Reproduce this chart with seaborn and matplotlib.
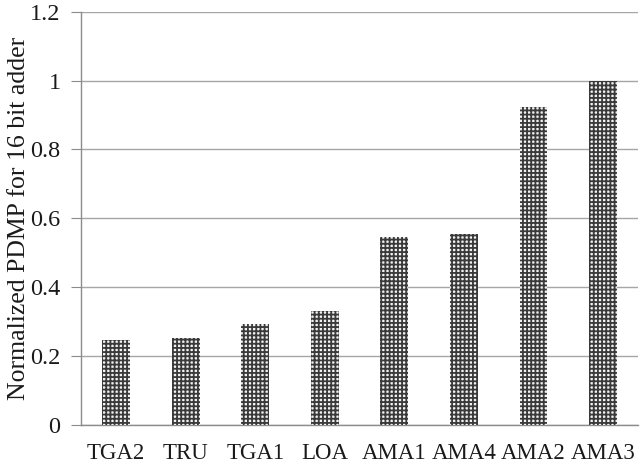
import matplotlib
matplotlib.use("Agg")
import matplotlib.pyplot as plt
import seaborn as sns
import numpy as np
import pandas as pd

adders = ["TGA2", "TRU", "TGA1", "LOA", "AMA1", "AMA4", "AMA2", "AMA3"]
pdmp = [0.247, 0.253, 0.294, 0.331, 0.547, 0.555, 0.924, 1.0]

df = pd.DataFrame({"adder": adders, "pdmp": pdmp})

sns.set_style("white")
plt.rcParams["font.family"] = ["Liberation Serif", "DejaVu Serif"]
plt.rcParams["hatch.linewidth"] = 1.3

fig, ax = plt.subplots(figsize=(6.41, 4.69), dpi=100)
sns.barplot(data=df, x="adder", y="pdmp", color="#f2f2f2", width=0.4,
            edgecolor="#3a3a3a", linewidth=0, ax=ax, zorder=3)
for p in ax.patches:
    p.set_hatch("++++")

ax.set_ylim(0, 1.2)
ax.set_yticks(np.arange(0, 1.21, 0.2))
ax.set_yticklabels(["0", "0.2", "0.4", "0.6", "0.8", "1", "1.2"])
ax.set_xlim(-0.5, len(adders) - 0.5)
ax.yaxis.grid(True, color="#a6a6a6", linewidth=1.0, zorder=0)
ax.set_axisbelow(True)

for s in ["top", "right"]:
    ax.spines[s].set_visible(False)
for s in ["left", "bottom"]:
    ax.spines[s].set_color("#8c8c8c")
    ax.spines[s].set_linewidth(1.0)

ax.set_xticks(np.arange(-0.5, len(adders), 1.0), minor=True)
ax.tick_params(axis="x", which="major", length=0, labelsize=16.5, pad=13,
               labelcolor="#1a1a1a")
ax.tick_params(axis="x", which="minor", length=6, color="#8c8c8c", direction="out")
ax.tick_params(axis="y", length=7, color="#8c8c8c", direction="out", pad=8,
               labelsize=17.5, left=True, labelcolor="#1a1a1a")

ax.set_xlabel("")
ax.set_ylabel("Normalized PDMP for 16 bit adder", fontsize=18.5, color="#1a1a1a",
              labelpad=0)

plt.subplots_adjust(left=0.127, right=0.995, top=0.975, bottom=0.094)
fig.savefig("out.png", dpi=100)
